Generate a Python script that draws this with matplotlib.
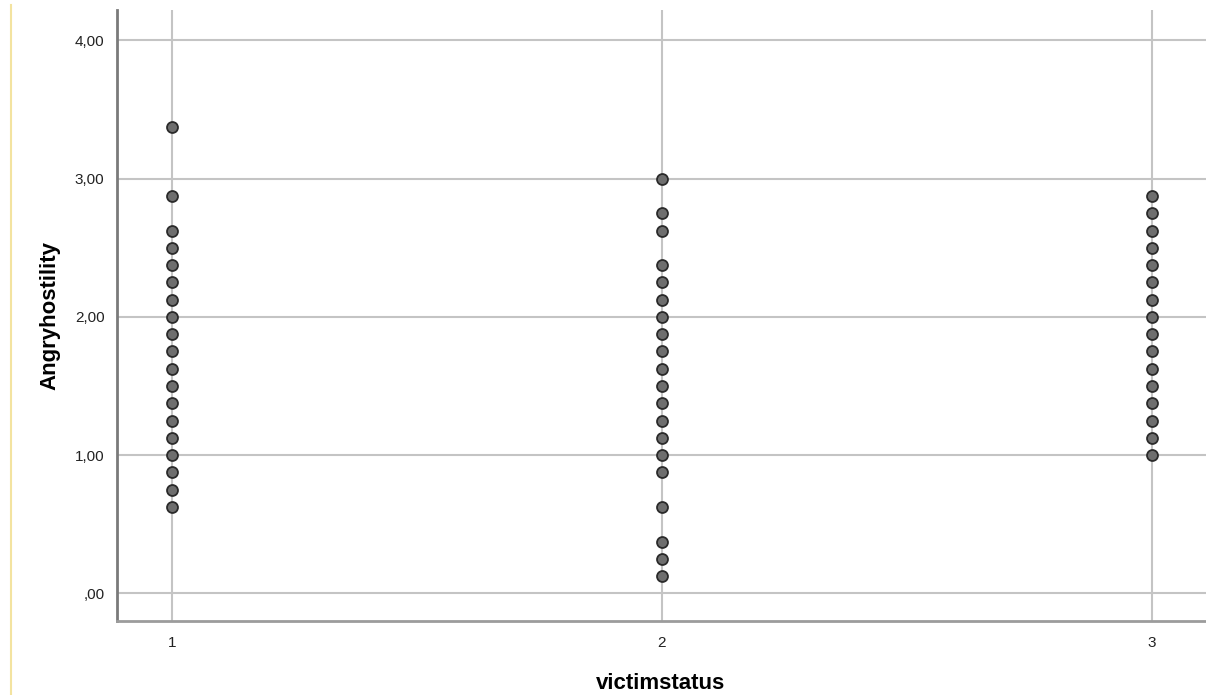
import matplotlib
matplotlib.use("Agg")
import matplotlib.pyplot as plt
from matplotlib.lines import Line2D
import numpy as np

plt.rcParams['font.family'] = ['Liberation Sans', 'DejaVu Sans']

# Angryhostility values per victimstatus group (steps of 1/8)
group1 = [3.375, 2.875, 2.625, 2.5, 2.375, 2.25, 2.125, 2.0, 1.875, 1.75,
          1.625, 1.5, 1.375, 1.25, 1.125, 1.0, 0.875, 0.75, 0.625]
group2 = [3.0, 2.75, 2.625, 2.375, 2.25, 2.125, 2.0, 1.875, 1.75, 1.625,
          1.5, 1.375, 1.25, 1.125, 1.0, 0.875, 0.625, 0.375, 0.25, 0.125]
group3 = [2.875, 2.75, 2.625, 2.5, 2.375, 2.25, 2.125, 2.0, 1.875, 1.75,
          1.625, 1.5, 1.375, 1.25, 1.125, 1.0]
groups = [1, 2, 3]

y_ticks = [0, 1, 2, 3, 4]
y_labels = [",00", "1,00", "2,00", "3,00", "4,00"]

fig = plt.figure(figsize=(12.06, 6.95), dpi=100)
ax = fig.add_axes([0.097, 0.1065, 0.903, 0.879])

for g, vals in zip(groups, [group1, group2, group3]):
    ax.scatter(np.full(len(vals), g), vals, s=62, facecolor="#6e6e6e",
               edgecolor="#2a2a2a", linewidth=1.3, zorder=3)

ax.set_xlim(0.888, 3.11)
ax.set_ylim(-0.2, 4.22)
ax.set_xticks(groups)
ax.set_xticklabels([str(g) for g in groups])
ax.set_yticks(y_ticks)
ax.set_yticklabels(y_labels)
ax.tick_params(length=0, labelsize=11, colors="#222222")
ax.tick_params(axis="x", pad=11)
ax.tick_params(axis="y", pad=9)
ax.grid(True, color="#c4c4c4", linewidth=1.5, zorder=0)
ax.set_axisbelow(True)

for side in ["top", "right"]:
    ax.spines[side].set_visible(False)
ax.spines["left"].set_color("#7a7a7a")
ax.spines["left"].set_linewidth(2)
ax.spines["bottom"].set_color("#9c9c9c")
ax.spines["bottom"].set_linewidth(2)

ax.set_ylabel("Angryhostility", fontsize=16, fontweight="bold", va="center")
ax.yaxis.set_label_coords(-0.0615, 0.5)
ax.set_xlabel("victimstatus", fontsize=16, fontweight="bold", va="center")
ax.xaxis.set_label_coords(0.499, -0.103)

# thin yellow border line at the left of the window
fig.add_artist(Line2D([0.009, 0.009], [0.0, 0.993], color="#f3e3a0",
                      linewidth=1.5))

fig.savefig("out.png", dpi=100, facecolor="white")
